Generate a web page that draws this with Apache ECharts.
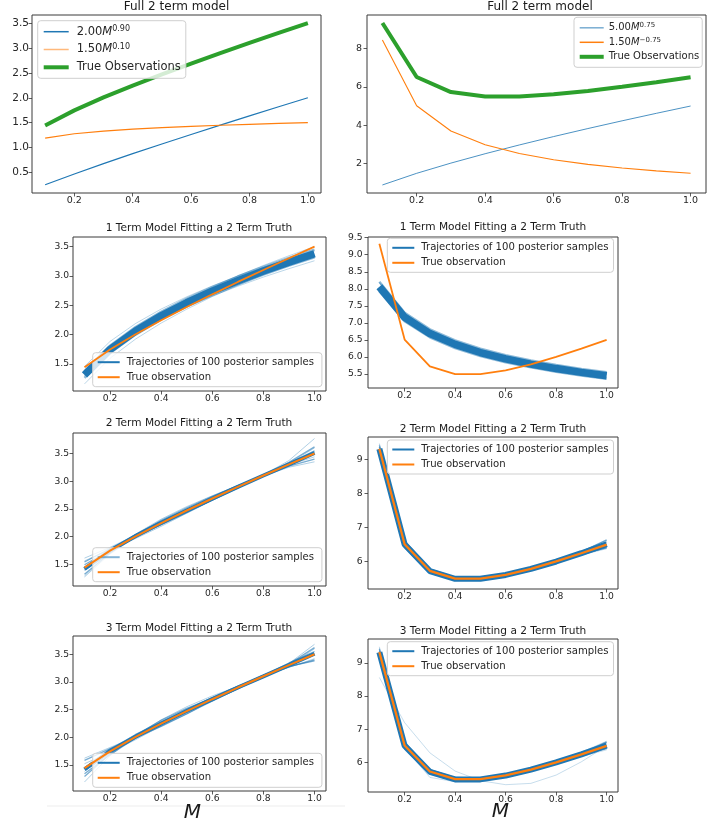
<!DOCTYPE html>
<html><head><meta charset="utf-8">
<script src="https://cdn.jsdelivr.net/npm/echarts@6/dist/echarts.min.js"></script>
<style>html,body{margin:0;padding:0;background:#fff}#c{width:709px;height:822px}</style>
</head><body><div id="c"></div>
<script>
// ---------------- data ----------------
const M = [0.1, 0.2, 0.3, 0.4, 0.5, 0.6, 0.7, 0.8, 0.9, 1.0];
const xTicks = [0.2, 0.4, 0.6, 0.8, 1.0];

// Row 1 left: full 2 term model
const p1TermA = [0.252, 0.470, 0.677, 0.877, 1.072, 1.263, 1.451, 1.636, 1.819, 2.000];
const p1TermB = [1.191, 1.277, 1.330, 1.369, 1.400, 1.425, 1.448, 1.467, 1.484, 1.500];
const p1Truth = [1.443, 1.747, 2.007, 2.246, 2.472, 2.688, 2.899, 3.103, 3.303, 3.500];
const p1YTicks = [0.5, 1.0, 1.5, 2.0, 2.5, 3.0, 3.5];

// Row 1 right: full 2 term model
const p2TermA = [0.889, 1.495, 2.027, 2.515, 2.973, 3.409, 3.826, 4.229, 4.620, 5.000];
const p2TermB = [8.436, 5.015, 3.700, 2.982, 2.523, 2.200, 1.960, 1.773, 1.623, 1.500];
const p2Truth = [9.325, 6.510, 5.727, 5.497, 5.496, 5.609, 5.786, 6.002, 6.243, 6.500];
const p2YTicks = [2, 4, 6, 8];

// Row 2 left: 1 term model fitting
const p3Core = [1.315, 1.747, 2.063, 2.321, 2.544, 2.742, 2.920, 3.085, 3.237, 3.380];
const p3Near = [
  [1.373, 1.812, 2.131, 2.391, 2.615, 2.812, 2.991, 3.155, 3.307, 3.450],
  [1.262, 1.689, 2.002, 2.260, 2.481, 2.679, 2.858, 3.023, 3.176, 3.320]
];
const p3Far = [
  [1.298, 1.712, 2.014, 2.260, 2.471, 2.658, 2.826, 2.982, 3.125, 3.260],
  [1.300, 1.752, 2.086, 2.360, 2.598, 2.810, 3.002, 3.180, 3.345, 3.500],
  [1.161, 1.598, 1.926, 2.198, 2.435, 2.649, 2.843, 3.023, 3.192, 3.350],
  [1.459, 1.885, 2.191, 2.437, 2.646, 2.831, 2.997, 3.149, 3.289, 3.420]
];
const p3YTicks = [1.5, 2.0, 2.5, 3.0, 3.5];

// Row 2 right: 1 term model fitting
const p4Core = [8.060, 7.165, 6.688, 6.369, 6.131, 5.944, 5.791, 5.660, 5.549, 5.450];
const p4Near = [
  [8.208, 7.296, 6.811, 6.486, 6.243, 6.053, 5.897, 5.764, 5.651, 5.550],
  [7.927, 7.047, 6.578, 6.264, 6.030, 5.846, 5.695, 5.567, 5.457, 5.360]
];
const p4Far = [
  [8.173, 7.214, 6.707, 6.368, 6.118, 5.920, 5.758, 5.621, 5.504, 5.400],
  [7.950, 7.115, 6.668, 6.368, 6.145, 5.968, 5.823, 5.700, 5.594, 5.500],
  [8.199, 7.262, 6.765, 6.433, 6.187, 5.992, 5.833, 5.698, 5.582, 5.480],
  [7.925, 7.069, 6.611, 6.305, 6.077, 5.897, 5.749, 5.623, 5.515, 5.420]
];
const p4YTicks = [5.5, 6.0, 6.5, 7.0, 7.5, 8.0, 8.5, 9.0, 9.5];

// Row 3 left: 2 term model fitting
const p5Core = [1.420, 1.745, 2.012, 2.250, 2.472, 2.685, 2.897, 3.103, 3.305, 3.510];
const p5Near = [
  [1.393, 1.747, 2.037, 2.276, 2.492, 2.688, 2.889, 3.103, 3.343, 3.620],
  [1.493, 1.757, 1.987, 2.216, 2.442, 2.668, 2.899, 3.103, 3.273, 3.400],
  [1.323, 1.707, 2.027, 2.296, 2.522, 2.728, 2.919, 3.103, 3.303, 3.530],
  [1.543, 1.787, 2.007, 2.216, 2.432, 2.658, 2.879, 3.103, 3.323, 3.550]
];
const p5Far = [
  [1.273, 1.687, 1.997, 2.266, 2.502, 2.718, 2.919, 3.113, 3.373, 3.770],
  [1.613, 1.807, 2.027, 2.236, 2.442, 2.658, 2.879, 3.093, 3.253, 3.350],
  [1.293, 1.717, 2.047, 2.316, 2.542, 2.738, 2.919, 3.103, 3.323, 3.600],
  [1.563, 1.767, 1.967, 2.186, 2.422, 2.658, 2.899, 3.113, 3.293, 3.440]
];
const p5YTicks = [1.5, 2.0, 2.5, 3.0, 3.5];

// Row 3 right: 2 term model fitting
const p6Core = [9.320, 6.505, 5.720, 5.490, 5.490, 5.605, 5.785, 6.000, 6.245, 6.510];
const p6Near = [
  [9.425, 6.590, 5.767, 5.517, 5.496, 5.599, 5.766, 5.982, 6.243, 6.580],
  [9.205, 6.430, 5.677, 5.467, 5.476, 5.609, 5.796, 6.012, 6.223, 6.400],
  [9.375, 6.480, 5.687, 5.477, 5.496, 5.629, 5.816, 6.032, 6.283, 6.640],
  [9.275, 6.550, 5.777, 5.537, 5.516, 5.609, 5.766, 5.972, 6.203, 6.420]
];
const p6Far = [
  [9.475, 6.630, 5.787, 5.527, 5.516, 5.629, 5.816, 6.042, 6.303, 6.620],
  [9.145, 6.390, 5.657, 5.447, 5.456, 5.579, 5.766, 5.972, 6.193, 6.380]
];
const p6YTicks = [6, 7, 8, 9];

// Row 4 left: 3 term model fitting
const p7Core = [1.420, 1.750, 2.010, 2.250, 2.475, 2.690, 2.900, 3.100, 3.305, 3.510];
const p7Near = [
  [1.443, 1.787, 2.047, 2.266, 2.462, 2.658, 2.879, 3.113, 3.343, 3.550],
  [1.343, 1.687, 1.987, 2.256, 2.502, 2.718, 2.919, 3.103, 3.273, 3.400],
  [1.293, 1.697, 2.037, 2.306, 2.522, 2.708, 2.889, 3.083, 3.323, 3.620],
  [1.583, 1.797, 1.987, 2.196, 2.422, 2.668, 2.909, 3.123, 3.283, 3.380]
];
const p7Far = [
  [1.383, 1.767, 2.057, 2.286, 2.482, 2.668, 2.869, 3.093, 3.333, 3.680],
  [1.523, 1.727, 1.957, 2.206, 2.462, 2.708, 2.929, 3.113, 3.263, 3.420],
  [1.193, 1.667, 2.027, 2.316, 2.552, 2.748, 2.919, 3.083, 3.293, 3.600],
  [1.623, 1.817, 2.007, 2.206, 2.422, 2.648, 2.879, 3.103, 3.323, 3.500]
];
const p7YTicks = [1.5, 2.0, 2.5, 3.0, 3.5];

// Row 4 right: 3 term model fitting
const p8Core = [9.320, 6.505, 5.720, 5.490, 5.490, 5.605, 5.785, 6.000, 6.245, 6.510];
const p8Near = [
  [9.415, 6.600, 5.777, 5.527, 5.506, 5.609, 5.776, 5.992, 6.253, 6.600],
  [9.195, 6.420, 5.667, 5.457, 5.466, 5.599, 5.786, 6.002, 6.213, 6.420],
  [9.365, 6.470, 5.677, 5.467, 5.486, 5.619, 5.806, 6.022, 6.273, 6.620],
  [9.285, 6.560, 5.787, 5.547, 5.526, 5.619, 5.776, 5.982, 6.213, 6.440]
];
const p8Far = [
  [9.485, 6.640, 5.797, 5.537, 5.526, 5.639, 5.826, 6.052, 6.313, 6.640],
  [9.135, 6.380, 5.647, 5.437, 5.446, 5.569, 5.756, 5.962, 6.183, 6.380],
  [8.560, 7.200, 6.290, 5.740, 5.450, 5.330, 5.370, 5.620, 6.020, 6.500],
  [9.450, 6.450, 5.550, 5.420, 5.470, 5.620, 5.800, 6.020, 6.250, 6.550]
];
const p8YTicks = [6, 7, 8, 9];

// ---------------- chart ----------------
const FONT = "'DejaVu Sans', sans-serif";
const C0 = '#1f77b4', C1 = '#ff7f0e', C2 = '#2ca02c';
const TXT = '#262626';
const TRAJ = 'Trajectories of 100 posterior samples';
const TRUE = 'True observation';

const panels = [
  {grid:{left:32,top:15,width:289,height:178}, y:[0.0875,3.6625], yt:p1YTicks, yd:1, yf:10.5, xf:9.5, ym:3},
  {grid:{left:367,top:15,width:339,height:178}, y:[0.47,9.74], yt:p2YTicks, yd:0, yf:9.5, xf:9.5, ym:5},
  {grid:{left:73,top:237,width:253,height:154}, y:[1.04,3.665], yt:p3YTicks, yd:1, yf:9.2, xf:9.2, ym:4},
  {grid:{left:368,top:237,width:250,height:151}, y:[5.09,9.52], yt:p4YTicks, yd:1, yf:9.2, xf:9.2, ym:5.5},
  {grid:{left:73,top:433,width:253,height:153}, y:[1.11,3.87], yt:p5YTicks, yd:1, yf:9.2, xf:9.2, ym:4},
  {grid:{left:368,top:437,width:250,height:152}, y:[5.19,9.67], yt:p6YTicks, yd:0, yf:9.2, xf:9.2, ym:5.5},
  {grid:{left:73,top:636,width:253,height:155}, y:[1.03,3.83], yt:p7YTicks, yd:1, yf:9.2, xf:9.2, ym:4},
  {grid:{left:368,top:639,width:250,height:153}, y:[5.11,9.72], yt:p8YTicks, yd:0, yf:9.2, xf:9.2, ym:5.5}
];

const grids = [], xAxes = [], yAxes = [];
panels.forEach((p, i) => {
  grids.push(Object.assign({show:true, borderColor:'#3a3a3a', borderWidth:1, backgroundColor:'transparent', containLabel:false}, p.grid));
  xAxes.push({
    type:'value', gridIndex:i, min:0.055, max:1.045,
    axisLine:{show:false}, splitLine:{show:false},
    axisTick:{show:true, inside:false, length:3.5, customValues:xTicks, lineStyle:{color:'#333', width:0.8}},
    axisLabel:{customValues:xTicks, formatter:v => v.toFixed(1), fontSize:p.xf, color:TXT, fontFamily:FONT, margin:3}
  });
  yAxes.push({
    type:'value', gridIndex:i, min:p.y[0], max:p.y[1],
    axisLine:{show:false}, splitLine:{show:false},
    axisTick:{show:true, inside:false, length:3.5, customValues:p.yt, lineStyle:{color:'#333', width:0.8}},
    axisLabel:{customValues:p.yt, formatter:v => v.toFixed(p.yd), fontSize:p.yf, color:TXT, fontFamily:FONT, margin:p.ym}
  });
});

function line(gi, name, ys, color, width, opacity, z) {
  return {
    type:'line', name:name, xAxisIndex:gi, yAxisIndex:gi,
    data:M.map((m, k) => [m, ys[k]]),
    symbol:'none', showSymbol:false, silent:true, animation:false, z:z || 2,
    lineStyle:{color:color, width:width, opacity:opacity},
    itemStyle:{color:color},
    emphasis:{disabled:true}
  };
}

const series = [];
// panel 0
series.push(line(0, 'p1a', p1TermA, C0, 1.2, 1));
series.push(line(0, 'p1b', p1TermB, C1, 1.2, 1));
series.push(line(0, 'True Observations', p1Truth, C2, 4, 1, 3));
// panel 1
series.push(line(1, 'p2a', p2TermA, C0, 1, 0.8));
series.push(line(1, 'p2b', p2TermB, C1, 1.1, 1));
series.push(line(1, 'True Observations', p2Truth, C2, 4, 1, 3));

function traj(gi, core, near, far, truth, coreW, nearW, nearOp, farOp, trueW) {
  far.forEach(t => series.push(line(gi, TRAJ, t, C0, 1, farOp)));
  near.forEach(t => series.push(line(gi, TRAJ, t, C0, nearW, nearOp)));
  series.push(line(gi, TRAJ, core, C0, coreW, 1));
  series.push(line(gi, TRUE, truth, C1, trueW, 1, 5));
}
traj(2, p3Core, p3Near, p3Far, p1Truth, 7.5, 2.5, 0.5, 0.3, 1.8);
traj(3, p4Core, p4Near, p4Far, p2Truth, 7.5, 2.5, 0.5, 0.3, 1.8);
traj(4, p5Core, p5Near, p5Far, p1Truth, 4, 1.3, 0.6, 0.35, 2);
traj(5, p6Core, p6Near, p6Far, p2Truth, 6, 1.3, 0.6, 0.35, 2.3);
traj(6, p7Core, p7Near, p7Far, p1Truth, 4, 1.3, 0.6, 0.35, 2);
traj(7, p8Core, p8Near, p8Far, p2Truth, 6, 1.3, 0.6, 0.25, 2.3);

// titles
const titles = [];
function title(text, cx, top, size, extra) {
  titles.push({text:text, left:cx, top:top, textAlign:'center', padding:0,
    textStyle:Object.assign({fontSize:size, fontWeight:'normal', color:'#1a1a1a', fontFamily:FONT}, extra || {})});
}
title('Full 2 term model', 176.5, 1, 12);
title('Full 2 term model', 540, 1, 12);
title('1 Term Model Fitting a 2 Term Truth', 199, 223, 10.6);
title('1 Term Model Fitting a 2 Term Truth', 493, 222, 10.6);
title('2 Term Model Fitting a 2 Term Truth', 199, 418, 10.6);
title('2 Term Model Fitting a 2 Term Truth', 493, 423.5, 10.6);
title('3 Term Model Fitting a 2 Term Truth', 199, 622.5, 10.6);
title('3 Term Model Fitting a 2 Term Truth', 493, 626, 10.6);
title('M', 192.5, 803, 20, {fontStyle:'italic'});
title('M', 500.5, 802, 20, {fontStyle:'italic'});

// legends
const legendLabels = {
  p1a:'{n|2.00}{i|M}{s|0.90}', p1b:'{n|1.50}{i|M}{s|0.10}',
  p2a:'{n|5.00}{i|M}{s|0.75}', p2b:'{n|1.50}{i|M}{s|\u22120.75}',
  'True Observations':'{n|True Observations}'
};
function richFor(fs, lh, ss) {
  return {
    n:{fontSize:fs, lineHeight:lh, fontFamily:FONT, color:TXT},
    i:{fontSize:fs, lineHeight:lh, fontFamily:FONT, color:TXT, fontStyle:'italic'},
    s:{fontSize:ss, lineHeight:ss, fontFamily:FONT, color:TXT, verticalAlign:'top'}
  };
}
function legend(left, top, items, opts) {
  return Object.assign({
    left:left, top:top, orient:'vertical', selectedMode:false,
    backgroundColor:'rgba(255,255,255,0.8)', borderColor:'#cfcfcf', borderWidth:1, borderRadius:3,
    itemHeight:10, itemStyle:{opacity:0},
    data:items.map(it => ({name:it[0], lineStyle:{color:it[1], width:it[2], opacity:it[3]}, itemStyle:{opacity:0}}))
  }, opts);
}
const legends = [
  legend(37.7, 20.7, [['p1a', C0, 1.5, 1], ['p1b', C1, 1.5, 0.55], ['True Observations', C2, 4, 1]], {
    padding:[4, 5, 4, 4], itemGap:3.8, itemWidth:25,
    formatter:n => legendLabels[n],
    textStyle:{fontSize:11.5, lineHeight:14, color:TXT, fontFamily:FONT, padding:[0, 0, 0, 3], rich:richFor(11.5, 14, 8)}
  }),
  legend(574, 17.3, [['p2a', C0, 1.5, 0.6], ['p2b', C1, 1.5, 1], ['True Observations', C2, 4, 1]], {
    padding:[4.5, 3, 4.5, 3.7], itemGap:2.5, itemWidth:24,
    formatter:n => legendLabels[n],
    textStyle:{fontSize:10, lineHeight:12, color:TXT, fontFamily:FONT, rich:richFor(10, 12, 7)}
  })
];
const lowLegends = [
  [92.7, 352.7, 1, 8], [387.3, 238.3, 1, 5], [92.7, 547.7, 0.55, 8],
  [387.3, 440, 1, 5], [92.7, 753.3, 1, 8], [387.3, 641.7, 1, 5]
];
lowLegends.forEach(l => {
  legends.push(legend(l[0], l[1], [[TRAJ, C0, 2, l[2]], [TRUE, C1, 2, 1]], {
    padding:[3.5, l[3], 3.5, 4], itemGap:3, itemWidth:22,
    textStyle:{fontSize:10.1, lineHeight:12, color:TXT, fontFamily:FONT, padding:[0, 0, 0, 2]}
  }));
});

const chart = echarts.init(document.getElementById('c'), null, {renderer:'canvas'});
chart.setOption({
  animation:false,
  backgroundColor:'#ffffff',
  title:titles,
  grid:grids, xAxis:xAxes, yAxis:yAxes,
  legend:legends,
  series:series,
  graphic:[{type:'line', silent:true, shape:{x1:47, y1:806, x2:345, y2:806}, style:{stroke:'#ededed', lineWidth:1}}]
});
</script>
</body></html>
